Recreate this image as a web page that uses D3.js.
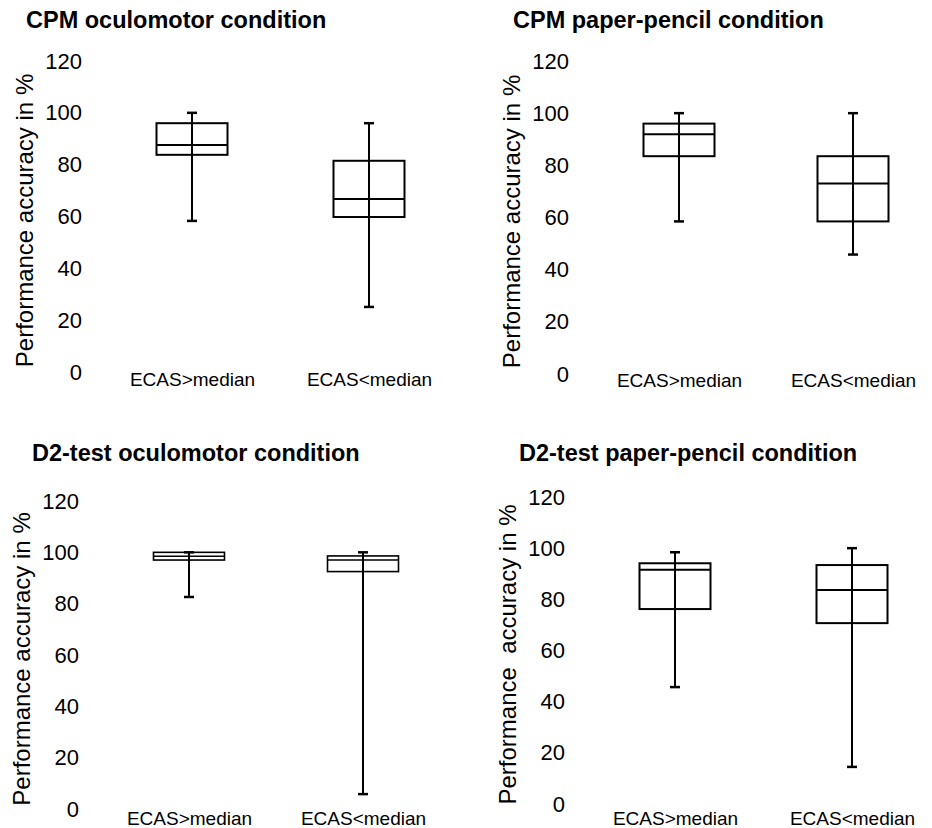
<!DOCTYPE html>
<html>
<head>
<meta charset="utf-8">
<script src="https://cdn.jsdelivr.net/npm/d3@7"></script>
<style>
    body { margin: 0; background: #fff; }
    svg { display: block; font-family: "Liberation Sans", Arial, sans-serif; }
</style>
</head>
<body>
<div id="chart"></div>
<script>
// Data: [min, q1, median, q3, max] per group
const categories = ["ECAS>median", "ECAS<median"];
const yTicks = [0, 20, 40, 60, 80, 100, 120];
const panelTitles = [
    "CPM oculomotor condition",
    "CPM paper-pencil condition",
    "D2-test oculomotor condition",
    "D2-test paper-pencil condition"
];
const yTitles = [
    "Performance accuracy in %",
    "Performance accuracy in %",
    "Performance accuracy in %",
    "Performance  accuracy in %"
];
const cpmOculomotor = [[58.3, 83.8, 87.6, 96, 100], [25.1, 59.8, 66.8, 81.5, 96]];
const cpmPaperPencil = [[58.5, 83.5, 91.9, 96, 100], [45.8, 58.5, 73, 83.5, 100]];
const d2Oculomotor = [[82.6, 97, 98.5, 100, 100], [5.8, 92.5, 97, 98.6, 100]];
const d2PaperPencil = [[45.7, 76.2, 91.6, 94.1, 98.4], [14.5, 70.7, 83.6, 93.4, 100]];

const panelData = [cpmOculomotor, cpmPaperPencil, d2Oculomotor, d2PaperPencil];

// Panel placement (pixels)
const layout = [
    { cx: 192, step: 177, top: 61, bottom: 372, titleX: 26, titleY: 28, labelY: 372, stroke: 2 },
    { cx: 679, step: 174, top: 61, bottom: 374, titleX: 513, titleY: 28, labelY: 373, stroke: 2 },
    { cx: 189, step: 174, top: 501, bottom: 809, titleX: 32, titleY: 461, labelY: 811, stroke: 1.6 },
    { cx: 675, step: 177, top: 497, bottom: 804, titleX: 519, titleY: 461, labelY: 811, stroke: 2 }
];

const boxWidth = 71;
const capWidth = 10;

const svg = d3.select("#chart")
    .append("svg")
    .attr("width", 932)
    .attr("height", 828);

panelData.forEach((data, i) => {
    const L = layout[i];

    const y = d3.scaleLinear()
        .domain([0, 120])
        .range([L.bottom, L.top]);

    const x = d3.scalePoint()
        .domain(categories)
        .range([L.cx, L.cx + L.step]);

    const g = svg.append("g");

    // Title
    g.append("text")
        .attr("x", L.titleX)
        .attr("y", L.titleY)
        .style("font-size", "23.5px")
        .style("font-weight", "bold")
        .text(panelTitles[i]);

    // Y axis labels only (no line, no ticks)
    const yAxis = g.append("g")
        .attr("transform", `translate(${L.cx - 110},0)`)
        .call(d3.axisLeft(y).tickValues(yTicks).tickSize(0).tickPadding(0));
    yAxis.select(".domain").remove();
    yAxis.selectAll("text")
        .attr("fill", "#000")
        .style("font-size", "22px")
        .style("font-family", "'Liberation Sans', Arial, sans-serif");

    // Y title
    g.append("text")
        .attr("text-anchor", "middle")
        .attr("transform", `translate(${L.cx - 167},${(L.top + L.bottom) / 2 + 4}) rotate(-90)`)
        .attr("dy", "0.35em")
        .style("font-size", "24px")
        .style("white-space", "pre")
        .text(yTitles[i]);

    // Category labels
    const xAxis = g.append("g")
        .attr("transform", `translate(0,${L.labelY})`)
        .call(d3.axisBottom(x).tickSize(0).tickPadding(0));
    xAxis.select(".domain").remove();
    xAxis.selectAll("text")
        .attr("fill", "#000")
        .style("font-size", "19px")
        .style("font-family", "'Liberation Sans', Arial, sans-serif");

    // Boxes
    const boxes = g.selectAll(".box")
        .data(data)
        .enter()
        .append("g")
        .attr("class", "box")
        .attr("fill", "none")
        .attr("stroke", "#000")
        .attr("stroke-width", L.stroke);

    boxes.append("rect")
        .attr("x", (d, j) => x(categories[j]) - boxWidth / 2)
        .attr("y", d => y(d[3]))
        .attr("width", boxWidth)
        .attr("height", d => y(d[1]) - y(d[3]));

    boxes.append("line")
        .attr("x1", (d, j) => x(categories[j]) - boxWidth / 2)
        .attr("x2", (d, j) => x(categories[j]) + boxWidth / 2)
        .attr("y1", d => y(d[2]))
        .attr("y2", d => y(d[2]));

    // Whisker running through the box
    boxes.append("line")
        .attr("x1", (d, j) => x(categories[j]))
        .attr("x2", (d, j) => x(categories[j]))
        .attr("y1", d => y(d[0]))
        .attr("y2", d => y(d[4]))
        .attr("stroke-width", 2);

    [0, 4].forEach(k => {
        boxes.append("line")
            .attr("x1", (d, j) => x(categories[j]) - capWidth / 2)
            .attr("x2", (d, j) => x(categories[j]) + capWidth / 2)
            .attr("y1", d => y(d[k]))
            .attr("y2", d => y(d[k]))
            .attr("stroke-width", 2.5);
    });
});
</script>
</body>
</html>
